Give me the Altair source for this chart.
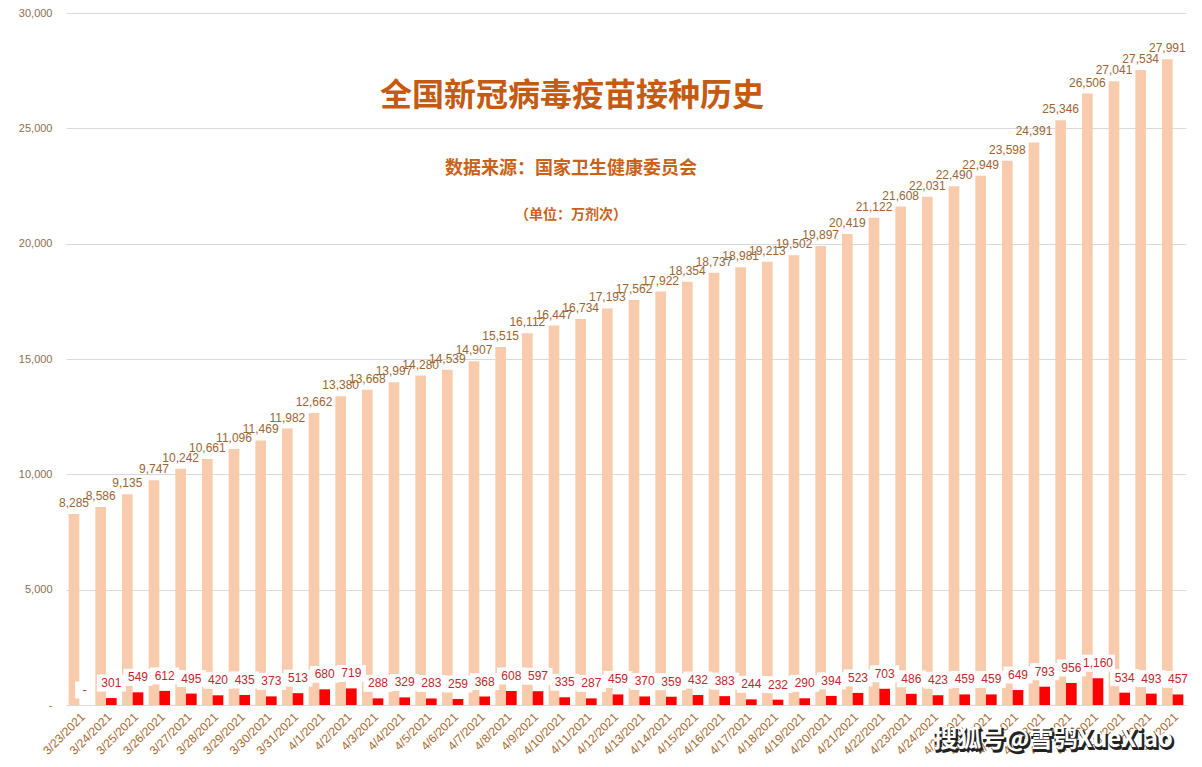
import altair as alt

dates = ["3/23/2021", "3/24/2021", "3/25/2021", "3/26/2021", "3/27/2021", "3/28/2021",
         "3/29/2021", "3/30/2021", "3/31/2021", "4/1/2021", "4/2/2021", "4/3/2021",
         "4/4/2021", "4/5/2021", "4/6/2021", "4/7/2021", "4/8/2021", "4/9/2021",
         "4/10/2021", "4/11/2021", "4/12/2021", "4/13/2021", "4/14/2021", "4/15/2021",
         "4/16/2021", "4/17/2021", "4/18/2021", "4/19/2021", "4/20/2021", "4/21/2021",
         "4/22/2021", "4/23/2021", "4/24/2021", "4/25/2021", "4/26/2021", "4/27/2021",
         "4/28/2021", "4/29/2021", "4/30/2021", "5/1/2021", "5/2/2021", "5/3/2021"]

cumulative = [8285, 8586, 9135, 9747, 10242, 10661, 11096, 11469, 11982, 12662,
              13380, 13668, 13997, 14280, 14539, 14907, 15515, 16112, 16447, 16734,
              17193, 17562, 17922, 18354, 18737, 18981, 19213, 19502, 19897, 20419,
              21122, 21608, 22031, 22490, 22949, 23598, 24391, 25346, 26506, 27041,
              27534, 27991]

daily = [None, 301, 549, 612, 495, 420, 435, 373, 513, 680,
         719, 288, 329, 283, 259, 368, 608, 597, 335, 287,
         459, 370, 359, 432, 383, 244, 232, 290, 394, 523,
         703, 486, 423, 459, 459, 649, 793, 956, 1160, 534,
         493, 457]

series = ["cum", "daily"]
series_colors = ["#F8CBAD", "#FF0000"]

title_text = "全国新冠病毒疫苗接种历史"
source_text = "数据来源：国家卫生健康委员会"
unit_text = "（单位：万剂次）"
watermark_text = "搜狐号@雪鸮XueXiao"

records = []
for d, c, n in zip(dates, cumulative, daily):
    records.append({"date": d, "series": "cum", "value": c})
    records.append({"date": d, "series": "daily", "value": n})
data = alt.Data(values=records)

x_enc = alt.X("date:N", sort=dates,
              scale=alt.Scale(paddingInner=0.2, paddingOuter=0.1),
              axis=alt.Axis(title=None, labelAngle=-45, labelColor="#A66A33",
                            labelFont="Liberation Sans", labelFontSize=12,
                            ticks=False, domainColor="#D9D9D9", labelPadding=6))
xo_enc = alt.XOffset("series:N", scale=alt.Scale(domain=series, paddingInner=0, paddingOuter=0))
y_scale = alt.Scale(domain=[0, 30000], nice=False)
y_axis = alt.Axis(title=None, values=[0, 5000, 10000, 15000, 20000, 25000, 30000],
                  labelExpr="datum.value == 0 ? '-' : format(datum.value, ',')",
                  gridColor="#D9D9D9", domain=False, ticks=False, labelPadding=14,
                  labelColor="#8C6E52", labelFont="Liberation Sans", labelFontSize=11)

base = alt.Chart(data)

bars = base.mark_bar().encode(
    x=x_enc, xOffset=xo_enc,
    y=alt.Y("value:Q", scale=y_scale, axis=y_axis),
    color=alt.Color("series:N", scale=alt.Scale(domain=series, range=series_colors), legend=None),
)

cum_text = base.transform_filter("datum.series == 'cum'").mark_text(
    baseline="alphabetic", dy=-7, font="Liberation Sans", fontSize=12, color="#9A6532"
).encode(
    x=x_enc, xOffset=xo_enc,
    y=alt.Y("value:Q", scale=y_scale),
    text=alt.Text("value:Q", format=","),
)

daily_base = base.transform_filter("datum.series == 'daily'").transform_calculate(
    yv="datum.value == null ? 0 : datum.value",
    lbl="datum.value == null ? '-' : format(datum.value, ',')",
).transform_calculate(
    bw="length(datum.lbl) == 1 ? 19 : (length(datum.lbl) <= 3 ? 29 : 34)"
).transform_calculate(
    bsize="datum.bw * datum.bw",
    bshape="'M-1,' + (-17 / datum.bw) + 'L1,' + (-17 / datum.bw) + 'L1,' + (17 / datum.bw) + 'L-1,' + (17 / datum.bw) + 'Z'",
)

boxes = daily_base.mark_point(filled=True, opacity=1, color="white", yOffset=-15, strokeWidth=0).encode(
    x=x_enc, xOffset=xo_enc,
    y=alt.Y("yv:Q", scale=y_scale),
    shape=alt.Shape("bshape:N", scale=None, legend=None),
    size=alt.Size("bsize:Q", scale=None, legend=None),
)

daily_text = daily_base.mark_text(
    baseline="middle", dy=-15, font="Liberation Sans", fontSize=12, color="#C0272D"
).encode(
    x=x_enc, xOffset=xo_enc,
    y=alt.Y("yv:Q", scale=y_scale),
    text="lbl:N",
)

one = alt.Data(values=[{}])
title = alt.Chart(one).mark_text(
    text=title_text, font="Noto Sans CJK SC", fontSize=32, fontWeight="bold",
    color="#C55A11", align="center", baseline="middle"
).encode(x=alt.value(506), y=alt.value(83))
subtitle = alt.Chart(one).mark_text(
    text=source_text, font="Noto Sans CJK SC", fontSize=18, fontWeight="bold",
    color="#C8621A", align="center", baseline="middle"
).encode(x=alt.value(505), y=alt.value(156))
unit = alt.Chart(one).mark_text(
    text=unit_text, font="Noto Sans CJK SC", fontSize=14, fontWeight="bold",
    color="#C8621A", align="center", baseline="middle"
).encode(x=alt.value(505), y=alt.value(202))
wm_shadow = alt.Chart(one).mark_text(
    text=watermark_text, font="Noto Sans CJK SC", fontSize=24, fontWeight="bold",
    color="#222222", stroke="#222222", strokeWidth=2, align="center", baseline="middle", dx=1.5, dy=1.5
).encode(x=alt.value(987), y=alt.value(727))
wm = alt.Chart(one).mark_text(
    text=watermark_text, font="Noto Sans CJK SC", fontSize=24, fontWeight="bold",
    color="white", align="center", baseline="middle"
).encode(x=alt.value(987), y=alt.value(727))

chart = alt.layer(bars, boxes, daily_text, cum_text, title, subtitle, unit, wm_shadow, wm).properties(
    width=1120, height=692,
    padding={"left": 58, "top": 5, "right": 8, "bottom": 54},
    autosize="none", background="white",
).configure_view(stroke=None)

chart.save("out.html", embed_options={"renderer": "svg", "actions": False})
